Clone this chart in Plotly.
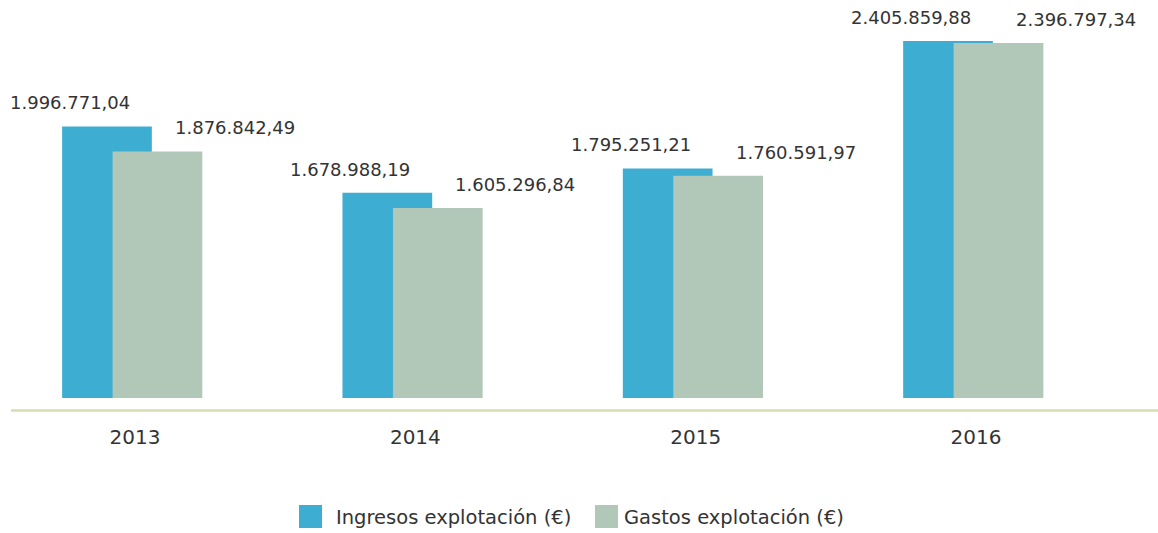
import plotly.graph_objects as go

# ---- data ----
years = ["2013", "2014", "2015", "2016"]
ingresos = [1996771.04, 1678988.19, 1795251.21, 2405859.88]
gastos = [1876842.49, 1605296.84, 1760591.97, 2396797.34]
name_ingresos = "Ingresos explotación (€)"
name_gastos = "Gastos explotación (€)"

# ---- style ----
BLUE = "#3eadd2"
GREEN = "#b1c7b7"
TEXT = "#333333"
AXIS = "#d5ddb5"
FONT = "DejaVu Sans"
W, H = 1158, 533
T, B = 10, 135
PLOT_H = H - T - B


def fmt(v):
    s = f"{v:,.2f}"
    return s.replace(",", "X").replace(".", ",").replace("X", ".")


fig = go.Figure()
fig.add_trace(go.Bar(x=years, y=ingresos, name=name_ingresos, marker_color=BLUE,
                     marker_line_width=0, width=0.32, offset=-0.26, showlegend=False,
                     hoverinfo="skip"))
fig.add_trace(go.Bar(x=years, y=gastos, name=name_gastos, marker_color=GREEN,
                     marker_line_width=0, width=0.32, offset=-0.08, showlegend=False,
                     hoverinfo="skip"))

annotations = []
for i, v in enumerate(ingresos):
    annotations.append(dict(x=i, y=v, xref="x", yref="y", text=fmt(v), showarrow=False,
                            xanchor="center", yanchor="bottom", xshift=-65, yshift=11,
                            font=dict(family=FONT, size=18, color=TEXT)))
for i, v in enumerate(gastos):
    annotations.append(dict(x=i, y=v, xref="x", yref="y", text=fmt(v), showarrow=False,
                            xanchor="center", yanchor="bottom", xshift=100, yshift=11,
                            font=dict(family=FONT, size=18, color=TEXT)))


def py(p):
    return (H - B - p) / PLOT_H


# manual legend (large swatches)
shapes = [
    dict(type="line", xref="paper", yref="paper", x0=11 / W, x1=1, y0=py(410.5), y1=py(410.5),
         line=dict(color=AXIS, width=2.5)),
    dict(type="rect", xref="paper", yref="paper", x0=299 / W, x1=322 / W, y0=py(528), y1=py(505),
         fillcolor=BLUE, line=dict(width=0)),
    dict(type="rect", xref="paper", yref="paper", x0=595 / W, x1=618 / W, y0=py(528), y1=py(505),
         fillcolor=GREEN, line=dict(width=0)),
]
annotations.append(dict(x=334 / W, y=py(517), xref="paper", yref="paper", text=name_ingresos,
                        showarrow=False, xanchor="left", yanchor="middle",
                        font=dict(family=FONT, size=19.5, color=TEXT)))
annotations.append(dict(x=622 / W, y=py(517), xref="paper", yref="paper", text=name_gastos,
                        showarrow=False, xanchor="left", yanchor="middle",
                        font=dict(family=FONT, size=19.5, color=TEXT)))

fig.update_layout(
    width=W, height=H,
    margin=dict(l=0, r=0, t=T, b=B),
    paper_bgcolor="white", plot_bgcolor="white",
    barmode="overlay",
    showlegend=False,
    hovermode=False,
    xaxis=dict(type="category", range=[-0.4816, 3.649], showgrid=False, zeroline=False,
               showline=False, ticks="", ticklabelstandoff=25, fixedrange=True,
               tickfont=dict(family=FONT, size=20, color=TEXT)),
    yaxis=dict(range=[695000, 2555000], visible=False, showgrid=False, zeroline=False,
               fixedrange=True),
    shapes=shapes,
    annotations=annotations,
)

fig.write_html("out.html", config={"displayModeBar": False, "staticPlot": True},
               post_script="document.body.style.margin='0';")
